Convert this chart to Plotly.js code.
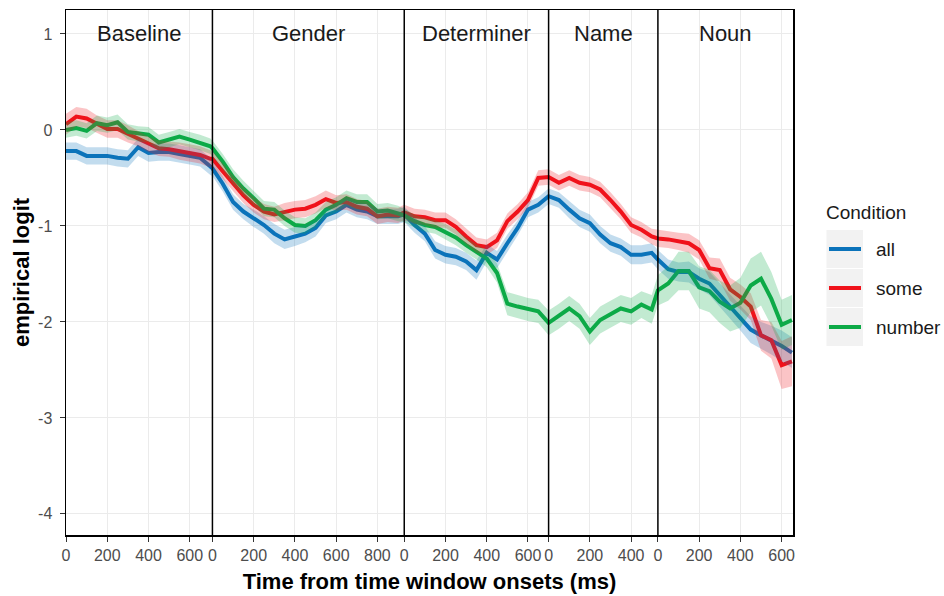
<!DOCTYPE html>
<html>
<head>
<meta charset="utf-8">
<script src="https://cdn.plot.ly/plotly-3.0.1.min.js"></script>
<style>html,body{margin:0;padding:0;background:#fff;}#chart{width:944px;height:596px;}</style>
</head>
<body>
<div id="chart"></div>
<script>
// ---- Data ----
const segmentNames = ["Baseline", "Gender", "Determiner", "Name", "Noun"];
// time (ms) within each time window
const baselineTimes   = [0,50,100,150,200,250,300,350,400,450,500,550,600,650,700];
const genderTimes     = [0,50,100,150,200,250,300,350,400,450,500,550,600,650,700,750,800,850,900];
const determinerTimes = [0,50,100,150,200,250,300,350,400,450,500,550,600,650];
const nameTimes       = [0,50,100,150,200,250,300,350,400,450,500];
const nounTimes       = [0,50,100,150,200,250,300,350,400,450,500,550,600,650];

const tickMsBaseline   = [0,200,400,600];
const tickMsGender     = [0,200,400,600,800];
const tickMsDeterminer = [0,200,400,600];
const tickMsName       = [0,200,400];
const tickMsNoun       = [0,200,400,600];

const conditions = ["all", "some", "number"];
const legendTitle = "Condition";

// empirical logit, segments concatenated: Baseline | Gender | Determiner | Name | Noun
const allY = [
  -0.22,-0.22,-0.27,-0.27,-0.27,-0.29,-0.30,-0.18,-0.24,-0.23,-0.23,-0.25,-0.27,-0.29,-0.38,
  -0.40,-0.56,-0.75,-0.85,-0.92,-0.99,-1.08,-1.14,-1.11,-1.08,-1.02,-0.89,-0.85,-0.78,-0.83,-0.85,-0.90,-0.90,-0.90,
  -0.88,-0.99,-1.08,-1.25,-1.30,-1.32,-1.37,-1.46,-1.28,-1.35,-1.18,-1.02,-0.83,-0.78,
  -0.69,-0.73,-0.83,-0.92,-0.97,-1.09,-1.18,-1.22,-1.30,-1.30,-1.28,
  -1.35,-1.45,-1.48,-1.48,-1.55,-1.60,-1.72,-1.84,-1.96,-2.08,-2.14,-2.19,-2.25,-2.32
];
const someY = [
  0.06,0.14,0.12,0.06,0.01,0.01,-0.04,-0.09,-0.15,-0.19,-0.20,-0.22,-0.24,-0.26,-0.30,
  -0.30,-0.43,-0.56,-0.68,-0.78,-0.85,-0.88,-0.85,-0.83,-0.82,-0.78,-0.72,-0.76,-0.75,-0.80,-0.82,-0.90,-0.88,-0.89,
  -0.86,-0.90,-0.91,-0.94,-0.94,-1.01,-1.11,-1.20,-1.22,-1.15,-0.95,-0.85,-0.73,-0.50,
  -0.49,-0.55,-0.50,-0.55,-0.57,-0.62,-0.73,-0.85,-0.99,-1.04,-1.11,
  -1.13,-1.14,-1.16,-1.18,-1.25,-1.44,-1.46,-1.66,-1.74,-1.84,-2.14,-2.19,-2.45,-2.41
];
const numberY = [
  0.00,0.02,-0.01,0.07,0.05,0.08,-0.02,-0.04,-0.05,-0.13,-0.10,-0.07,-0.10,-0.13,-0.17,
  -0.19,-0.33,-0.49,-0.61,-0.71,-0.82,-0.83,-0.92,-0.99,-1.00,-0.94,-0.83,-0.78,-0.71,-0.75,-0.75,-0.85,-0.84,-0.87,
  -0.89,-0.95,-0.99,-1.01,-1.06,-1.12,-1.20,-1.27,-1.34,-1.49,-1.81,-1.84,-1.87,-1.89,
  -2.01,-1.94,-1.86,-1.94,-2.10,-1.98,-1.92,-1.86,-1.89,-1.82,-1.87,
  -1.67,-1.60,-1.47,-1.47,-1.64,-1.68,-1.79,-1.86,-1.80,-1.62,-1.55,-1.76,-2.03,-1.98
];
// half-width of the confidence ribbon
const allSE = [
  0.09,0.09,0.09,0.09,0.09,0.09,0.09,0.09,0.09,0.09,0.09,0.09,0.09,0.09,0.09,
  0.08,0.08,0.08,0.08,0.09,0.09,0.10,0.10,0.10,0.09,0.09,0.08,0.08,0.08,0.08,0.08,0.08,0.08,0.08,
  0.08,0.08,0.08,0.09,0.09,0.09,0.09,0.10,0.09,0.09,0.09,0.08,0.08,0.08,
  0.08,0.08,0.09,0.09,0.09,0.09,0.09,0.09,0.10,0.10,0.10,
  0.10,0.10,0.10,0.11,0.11,0.12,0.12,0.13,0.13,0.14,0.14,0.15,0.16,0.16
];
const someSE = [
  0.11,0.10,0.10,0.09,0.09,0.09,0.09,0.08,0.08,0.08,0.08,0.09,0.09,0.09,0.09,
  0.08,0.08,0.08,0.08,0.08,0.08,0.08,0.09,0.09,0.09,0.09,0.09,0.08,0.08,0.08,0.08,0.08,0.08,0.08,
  0.08,0.08,0.08,0.08,0.08,0.08,0.08,0.08,0.08,0.08,0.08,0.08,0.08,0.08,
  0.08,0.08,0.08,0.08,0.08,0.08,0.08,0.08,0.08,0.08,0.08,
  0.09,0.09,0.09,0.10,0.10,0.11,0.12,0.12,0.13,0.14,0.16,0.19,0.25,0.26
];
const numberSE = [
  0.08,0.08,0.08,0.08,0.08,0.08,0.08,0.08,0.08,0.08,0.08,0.08,0.08,0.08,0.08,
  0.08,0.08,0.08,0.08,0.08,0.08,0.08,0.08,0.08,0.08,0.08,0.08,0.08,0.08,0.08,0.08,0.08,0.08,0.08,
  0.07,0.07,0.07,0.07,0.08,0.08,0.08,0.08,0.09,0.10,0.12,0.12,0.12,0.12,
  0.13,0.13,0.13,0.13,0.14,0.14,0.14,0.14,0.14,0.14,0.15,
  0.16,0.18,0.20,0.20,0.22,0.22,0.22,0.24,0.26,0.28,0.28,0.28,0.26,0.26
];

// ---- Axis layout (positions of each time window on the shared axis) ----
const segStart = [0, 710, 1640, 2340, 2870];
const xMax = 3525;
const segTimes = [baselineTimes, genderTimes, determinerTimes, nameTimes, nounTimes];
const segTicks = [tickMsBaseline, tickMsGender, tickMsDeterminer, tickMsName, tickMsNoun];

const xs = [];
segTimes.forEach((arr, i) => arr.forEach(t => xs.push(segStart[i] + t)));
const tickvals = [], ticktext = [];
segTicks.forEach((arr, i) => arr.forEach(t => { tickvals.push(segStart[i] + t); ticktext.push(String(t)); }));

const colors = {all: "#0B73BA", some: "#F0121B", number: "#0DAA47"};
const fills  = {all: "rgba(11,115,186,0.25)", some: "rgba(240,18,27,0.25)", number: "rgba(13,170,71,0.25)"};
const Ys  = {all: allY, some: someY, number: numberY};
const SEs = {all: allSE, some: someSE, number: numberSE};

const traces = [];
conditions.forEach(c => {
  traces.push({
    type: "scatter", mode: "lines", x: xs, y: Ys[c], name: c,
    line: {color: colors[c], width: 4}, hoverinfo: "skip", showlegend: false
  });
});
conditions.forEach(c => {
  const up = Ys[c].map((v, k) => v + SEs[c][k]);
  const lo = Ys[c].map((v, k) => v - SEs[c][k]);
  traces.push({
    type: "scatter", mode: "lines", x: xs.concat(xs.slice().reverse()),
    y: up.concat(lo.slice().reverse()), fill: "toself", fillcolor: fills[c],
    line: {width: 0}, showlegend: false, hoverinfo: "skip", name: c + " CI"
  });
});

const FONT = "Liberation Sans, Arial, sans-serif";
const W = 727, H = 525;
function px2x(p) { return (p - 66) / W; }
function px2y(p) { return (535 - p) / H; }

const shapes = [];
for (let i = 1; i < segStart.length; i++) {
  shapes.push({type: "line", xref: "x", yref: "paper", x0: segStart[i], x1: segStart[i], y0: 0, y1: 1,
    line: {color: "#000", width: 1.5}, layer: "above"});
}

const annotations = segmentNames.map((n, i) => {
  const end = i + 1 < segStart.length ? segStart[i + 1] : xMax;
  return {x: (segStart[i] + end) / 2, y: 1, xref: "x", yref: "y", text: n, showarrow: false,
    font: {family: FONT, size: 22, color: "#1A1A1A"}, xanchor: "center", yanchor: "middle"};
});

// ---- Legend (keys drawn in paper space) ----
annotations.push({xref: "paper", yref: "paper", x: px2x(824), y: px2y(212), text: legendTitle, showarrow: false,
  xanchor: "left", yanchor: "middle", font: {family: FONT, size: 19, color: "#1A1A1A"}});
const keyRows = [[230, 268], [269, 307], [308, 346]];
conditions.forEach((c, i) => {
  const r = keyRows[i], mid = (r[0] + r[1]) / 2;
  shapes.push({type: "rect", xref: "paper", yref: "paper", x0: px2x(826.5), x1: px2x(863), y0: px2y(r[1]), y1: px2y(r[0]),
    fillcolor: "#F2F2F2", line: {width: 0}, layer: "below"});
  shapes.push({type: "line", xref: "paper", yref: "paper", x0: px2x(829), x1: px2x(861), y0: px2y(mid), y1: px2y(mid),
    line: {color: colors[c], width: 4}});
  annotations.push({xref: "paper", yref: "paper", x: px2x(874), y: px2y(mid), text: c, showarrow: false,
    xanchor: "left", yanchor: "middle", font: {family: FONT, size: 19, color: "#1A1A1A"}});
});

const axisCommon = {
  showline: true, linecolor: "#000", linewidth: 1.5, mirror: true,
  ticks: "outside", ticklen: 5, tickcolor: "#333", tickwidth: 1,
  showgrid: true, gridcolor: "#EBEBEB", gridwidth: 1, zeroline: false,
  tickfont: {family: FONT, size: 16, color: "#4D4D4D"}
};

const layout = {
  width: 944, height: 596,
  margin: {l: 66, r: 151, t: 10, b: 61},
  paper_bgcolor: "#fff", plot_bgcolor: "#fff",
  font: {family: FONT},
  showlegend: false,
  xaxis: Object.assign({}, axisCommon, {
    range: [0, xMax], tickvals: tickvals, ticktext: ticktext, tickangle: 0,
    title: {text: "Time from time window onsets (ms)", font: {family: FONT, size: 22, color: "#000", weight: "bold"}, standoff: 11}
  }),
  yaxis: Object.assign({}, axisCommon, {
    range: [-4.22, 1.25], tickvals: [-4, -3, -2, -1, 0, 1], ticktext: ["-4", "-3", "-2", "-1", "0", "1"],
    ticklabelstandoff: 4,
    title: {text: "empirical logit", font: {family: FONT, size: 22, color: "#000", weight: "bold"}, standoff: 2}
  }),
  shapes: shapes,
  annotations: annotations
};

Plotly.newPlot("chart", traces, layout, {displayModeBar: false, staticPlot: true});
</script>
</body>
</html>
